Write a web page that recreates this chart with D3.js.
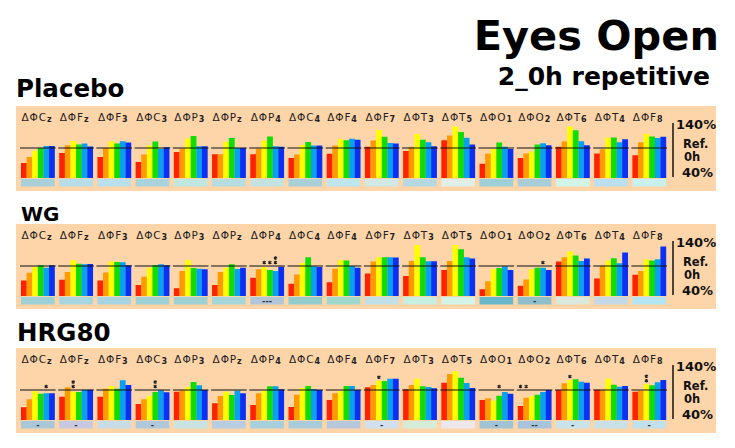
<!DOCTYPE html>
<html>
<head>
<meta charset="utf-8">
<script src="https://cdn.jsdelivr.net/npm/d3@7"></script>
<style>
  html, body { margin: 0; padding: 0; background: #fff; }
  svg { display: block; }
</style>
</head>
<body>
<script>
// ---------------- DATA ----------------
const groups = ["Cz","Fz","F3","C3","P3","Pz","P4","C4","F4","F7","T3","T5","O1","O2","T6","T4","F8"];
const seriesNames = ["s1","s2","s3","s4","s5","s6"];
const panelNames = ["Placebo","WG","HRG80"];
const yTicks = ["140%","Ref.","0h","40%"];

const placeboValues = [
  [70,82,94.5,100,104,104],
  [90,105.5,114,107,109,103],
  [82,100,113.5,109,113.5,111],
  [72,87,105,113,98,101.5],
  [92,99,118.5,124,103.5,103.5],
  [87.5,87.5,112.5,120,100,100],
  [87.5,98.5,114.5,123,103.5,102.5],
  [80,87,106,112,105,105],
  [88.5,105,117.5,115.5,118.5,116.5],
  [102.5,115,136,122.5,110,109],
  [94,102,128,116.5,111.5,103.5],
  [115.5,125,143,132,120.5,107],
  [68.5,88.5,98,111,102.5,98],
  [80,89,93,107,109.5,105.5],
  [102.5,113,143,135.5,113.5,105.5],
  [89,97.5,120.5,121,111.5,117.5],
  [85.5,111.5,128.5,123,120,122.5]
];
const wgValues = [
  [71,86.5,98,101.5,96.5,101.5],
  [72.5,88,111.5,104.5,103.5,104],
  [71,87,109.5,108,107.5,101.5],
  [62,78.5,96.5,102,103.5,101.5],
  [55.5,90,111.5,96,94.5,93.5],
  [62,88,96.5,103.5,94,96.5],
  [76.5,93.5,97.5,92,90,98.5],
  [64.5,83,106,117.5,99.5,98],
  [67.5,94.5,111.5,111,100,96.5],
  [85,109,117.5,117.5,117.5,117],
  [80,110,142,117.5,109.5,109.5],
  [92,110,142,133.5,117.5,115],
  [53.5,69.5,93.5,96,99.5,92],
  [60.5,73,93.5,96.5,96.5,92],
  [109,117.5,129,121,110,115],
  [75,100.5,111,115.5,105.5,127],
  [82.5,90,113,111,113.5,139]
];
const hrgValues = [
  [65.5,81.5,97.5,92.5,93.5,93.5],
  [86.5,105.5,96.5,96,100.5,100.5],
  [86.5,102.5,108,102.5,119.5,110],
  [72,81.5,88.5,96,99.5,95.5],
  [96.5,99.5,106,116,109.5,100],
  [73.5,88,96.5,90,98.5,93.5],
  [70,93.5,98.5,107.5,107.5,101.5],
  [66,90.5,104,108,102,100],
  [80,93.5,98,108,108,100],
  [105.5,110,118.5,118,122.5,122.5],
  [101.5,110,122.5,107.5,106,103.5],
  [114.5,132,137.5,124.5,114,104],
  [80,83.5,78.5,88.5,96,92.5],
  [68,84.5,87.5,90.5,96,100],
  [100,113.5,120,121.5,116.5,114.5],
  [100.5,100.5,122.5,110.5,106.5,108],
  [96.5,98.5,111.5,109.5,115.5,120]
];

// strip (per-electrode summary cell) colours
const placeboStrip = ["#a9cfd8","#b6dde8","#b9dfea","#a8d2dc","#bfe8e0","#b5dde0","#c4e2e0","#a9d0d8","#bde6ee","#d2e8e4","#b5d9e2","#e0efe8","#9ccfd6","#a8cdd8","#d2f5ea","#badfee","#c8f0ec"];
const wgStrip = ["#9fd0d6","#a8d6de","#a6d4e0","#9ed0d6","#9fd0d2","#a6d6d8","#b2c6d8","#94cccc","#a0d8cc","#c0e0e6","#c8eee0","#d4f4e8","#68b8cc","#8fbfca","#dde8dd","#c4d8e6","#b4e4f2"];
const hrgStrip = ["#a8c8d8","#c8c8e0","#c8dce6","#b0c8dc","#c8e4e2","#b8cce2","#a8d0dc","#a8ccda","#b8c8dc","#d0e0ee","#d4ecd8","#ece8ec","#a0c4d6","#a8c4dc","#c8e4ea","#c8e0e6","#c0e0ea"];

// significance stars: [group, series index, count]
const placeboStars = [];
const wgStars = [["P4",2,1],["P4",3,1],["P4",4,2],["O2",4,1]];
const hrgStars = [["Cz",4,1],["Fz",2,2],["C3",3,2],["F7",2,1],["O1",3,1],["O2",0,1],["O2",1,1],["T6",2,1],["F8",2,2]];

// marks inside the strip: [group, text]
const placeboStripMarks = [];
const wgStripMarks = [["P4","---"],["O2","-"]];
const hrgStripMarks = [["Cz","-"],["Fz","-"],["C3","-"],["F7","-"],["O1","-"],["O2","--"],["T6","-"],["F8","-"]];

// ---------------- DRAWING ----------------
const W = 735, H = 448;
const colors = ["#ff2200","#ff9a00","#ffff00","#11dd00","#0aa0f0","#0a30f5"];
const FONT = "'DejaVu Sans', Verdana, sans-serif";

const svg = d3.select("body").append("svg").attr("width", W).attr("height", H);

svg.append("text").attr("x", 719).attr("y", 50).attr("text-anchor", "end")
  .attr("font-family", FONT).attr("font-weight", "bold").attr("font-size", 41.5)
  .text("Eyes Open");
svg.append("text").attr("x", 710).attr("y", 85).attr("text-anchor", "end")
  .attr("font-family", FONT).attr("font-weight", "bold").attr("font-size", 25)
  .text("2_0h repetitive");

const x = d3.scaleBand().domain(groups).range([21, 666]).paddingInner(0.12).paddingOuter(0);
const xs = d3.scaleBand().domain(d3.range(seriesNames.length)).range([0, x.bandwidth()]).padding(0);
const color = d3.scaleOrdinal().domain(d3.range(seriesNames.length)).range(colors);
const star = d3.symbol().type(d3.symbolAsterisk).size(9);

const panels = [
  {name: panelNames[0], values: placeboValues, strip: placeboStrip, stars: placeboStars, marks: placeboStripMarks,
   bottom: 178, labelX: 16, labelY: 97, labelSize: 24.5},
  {name: panelNames[1], values: wgValues, strip: wgStrip, stars: wgStars, marks: wgStripMarks,
   bottom: 296, labelX: 21, labelY: 221, labelSize: 20},
  {name: panelNames[2], values: hrgValues, strip: hrgStrip, stars: hrgStars, marks: hrgStripMarks,
   bottom: 420, labelX: 17, labelY: 341, labelSize: 24.5}
];

panels.forEach(p => {
  const y = d3.scaleLinear().domain([40, 140]).range([p.bottom, p.bottom - 50]);
  const g = svg.append("g");

  g.append("text").attr("x", p.labelX).attr("y", p.labelY)
    .attr("font-family", FONT).attr("font-weight", "bold").attr("font-size", p.labelSize)
    .text(p.name);

  g.append("rect").attr("x", 16).attr("y", p.bottom - 72).attr("width", 700).attr("height", 85)
    .attr("fill", "#fdd5a9");

  // column labels
  const lab = g.selectAll("text.col").data(groups).enter().append("text")
    .attr("class", "col")
    .attr("x", d => x(d) + 0.5).attr("y", p.bottom - 57.5)
    .attr("font-family", FONT).attr("font-size", 10.5).attr("fill", "#222")
    .attr("letter-spacing", 0.9);
  lab.append("tspan").text(d => "ΔΦ" + d[0]);
  lab.append("tspan").attr("font-size", 8).attr("dy", 1.5).attr("font-weight", "bold").text(d => d.slice(1));

  // bars
  const gg = g.selectAll("g.grp").data(groups).enter().append("g")
    .attr("class", "grp").attr("transform", d => `translate(${x(d)},0)`);
  gg.selectAll("rect.bar").data((d, i) => p.values[i].map((v, j) => ({v, j})))
    .enter().append("rect").attr("class", "bar")
    .attr("x", d => xs(d.j)).attr("width", xs.bandwidth() + 0.2)
    .attr("y", d => y(d.v)).attr("height", d => y(40) - y(d.v))
    .attr("fill", d => color(d.j));

  // strip
  gg.append("rect").attr("x", 0).attr("y", y(40) + 1).attr("width", x.bandwidth())
    .attr("height", 7.5).attr("fill", (d, i) => p.strip[i]);

  // reference line (100% = 0h)
  gg.append("line").attr("x1", -1).attr("x2", x.bandwidth() + 1)
    .attr("y1", y(100)).attr("y2", y(100)).attr("stroke", "#111").attr("stroke-width", 1.2);

  // significance stars (drawn as asterisk symbols)
  p.stars.forEach(([grp, j, n]) => {
    const gi = groups.indexOf(grp);
    const top = Math.min(y(100), y(p.values[gi][j]));
    const cx = x(grp) + xs(j) + xs.bandwidth() / 2;
    for (let k = 0; k < n; k++) {
      g.append("path").attr("d", star)
        .attr("transform", `translate(${cx},${top - 3.5 - k * 4.5})`)
        .attr("fill", "none").attr("stroke", "#222").attr("stroke-width", 1.1);
    }
  });

  // strip marks
  p.marks.forEach(([grp, t]) => {
    g.append("text").attr("x", x(grp) + x.bandwidth() / 2).attr("y", y(40) + 7.5)
      .attr("text-anchor", "middle").attr("font-family", FONT).attr("font-weight", "bold")
      .attr("font-size", 8).attr("fill", "#333").text(t);
  });

  // right-hand axis
  g.append("line").attr("x1", 673).attr("x2", 673).attr("y1", p.bottom - 55).attr("y2", p.bottom - 1)
    .attr("stroke", "#111").attr("stroke-width", 1.5);
  const tickPos = [[676, p.bottom - 49, 13], [683, p.bottom - 30.5, 11.5], [684, p.bottom - 17, 11.5], [682, p.bottom - 1, 13]];
  yTicks.forEach((t, i) => {
    g.append("text").attr("x", tickPos[i][0]).attr("y", tickPos[i][1])
      .attr("font-family", FONT).attr("font-weight", "bold").attr("font-size", tickPos[i][2])
      .attr("fill", "#111").text(t);
  });
});
</script>
</body>
</html>
